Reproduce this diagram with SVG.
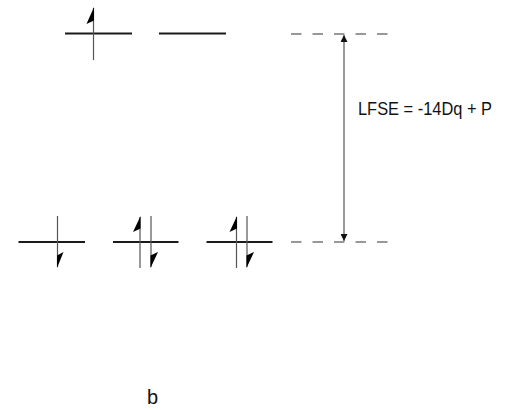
<svg xmlns="http://www.w3.org/2000/svg" width="525" height="410" viewBox="0 0 525 410">
<style>
.lvl{stroke:#1a1a1a;stroke-width:2;fill:none}
.spin{stroke:#555;stroke-width:1.2;fill:none}
.flag{fill:#000;stroke:none}
.dash{stroke:#777;stroke-width:1.6;stroke-dasharray:10.5 11;fill:none}
.dim{stroke:#777;stroke-width:1.5;fill:none}
.t{font-family:"Liberation Sans",Arial,sans-serif;fill:#111}
</style>
<defs>
<marker id="ah" viewBox="0 0 10 10" refX="10" refY="5" markerWidth="7" markerHeight="7" markerUnits="userSpaceOnUse" orient="auto-start-reverse">
<path d="M0,0 L10,5 L0,10 z" fill="#111"/>
</marker>
</defs>
<rect width="525" height="410" fill="#fff"/>
<g id="eg1">
<line class="lvl" x1="65" y1="33.5" x2="132" y2="33.5"/>
<line class="spin" x1="93.5" y1="8" x2="93.5" y2="60"/>
<polygon class="flag" points="94,7 86.5,24 94,20.5"/>
</g>
<g id="eg2">
<line class="lvl" x1="159" y1="33.5" x2="226" y2="33.5"/>
</g>
<g id="t2g1">
<line class="lvl" x1="18.5" y1="242" x2="85" y2="242"/>
<line class="spin" x1="57.5" y1="216" x2="57.5" y2="267"/>
<polygon class="flag" points="57,268 63.5,252 57,255.5"/>
</g>
<g id="t2g2">
<line class="lvl" x1="113" y1="242" x2="178.5" y2="242"/>
<line class="spin" x1="140" y1="217" x2="140" y2="268"/>
<polygon class="flag" points="140.5,216 133,232 140.5,228.5"/>
<line class="spin" x1="151" y1="216" x2="151" y2="267"/>
<polygon class="flag" points="150.5,268 158,252 150.5,255.5"/>
</g>
<g id="t2g3">
<line class="lvl" x1="206.5" y1="242" x2="272.5" y2="242"/>
<line class="spin" x1="236.5" y1="217" x2="236.5" y2="268"/>
<polygon class="flag" points="237,216 229.5,232 237,228.5"/>
<line class="spin" x1="247" y1="216" x2="247" y2="267"/>
<polygon class="flag" points="246.5,268 254,252 246.5,255.5"/>
</g>
<g id="connectors">
<line class="dash" x1="291" y1="34" x2="388" y2="34"/>
<line class="dash" x1="291" y1="242" x2="388" y2="242"/>
<line class="dim" x1="344" y1="35" x2="344" y2="241" marker-start="url(#ah)" marker-end="url(#ah)"/>
</g>
<text class="t" x="358" y="115" font-size="17.5" textLength="134" lengthAdjust="spacingAndGlyphs">LFSE = -14Dq + P</text>
<text class="t" x="147" y="404" font-size="20">b</text>
</svg>
